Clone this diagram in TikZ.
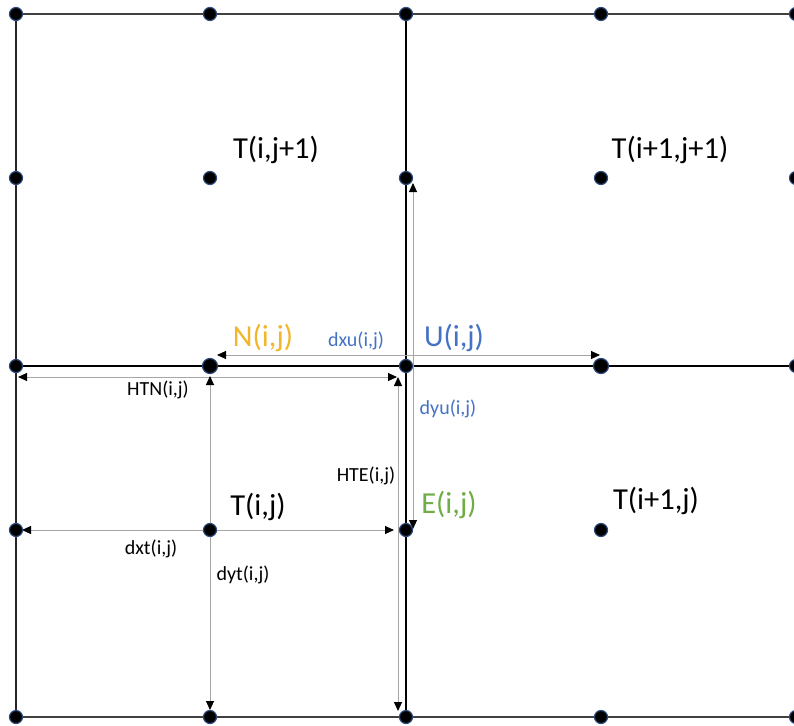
\documentclass[tikz,border=0pt]{standalone}
\usepackage{fontspec}
\setmainfont{Carlito}
\usetikzlibrary{arrows.meta}
\definecolor{dotedge}{HTML}{2E4A7D}
\definecolor{dimgray}{HTML}{A6A6A6}
\definecolor{nyellow}{HTML}{F1B62B}
\definecolor{ublue}{HTML}{4472C4}
\definecolor{egreen}{HTML}{70AD47}
\begin{document}
\begin{tikzpicture}[x=1pt,y=-1pt,
 dot/.style={circle,fill=black,draw=dotedge,line width=1.2pt,inner sep=0pt,minimum size=13pt},
 bigdot/.style={dot,minimum size=15pt},
 thingrid/.style={line width=1.6pt,draw=black!85},
 topgrid/.style={line width=2.2pt,draw=black!75},
 heavygrid/.style={line width=2.8pt,draw=black},
 dimline/.style={draw=dimgray,line width=0.9pt,>={Triangle[length=9pt,width=8pt,color=black]},<->},
 big/.style={font=\fontsize{30.5}{36}\selectfont,inner sep=0pt},
 small/.style={font=\fontsize{20}{24}\selectfont,inner sep=0pt}]
\clip (0,0) rectangle (794,725);
\fill[white] (0,0) rectangle (794,725);
% grid corner / edge points
\coordinate (L1) at (16,14);   \coordinate (R1) at (800,14);
\coordinate (L3) at (16,366);  \coordinate (R3) at (800,366);
\coordinate (L5) at (16,717);  \coordinate (R5) at (800,717);
\coordinate (M1) at (406,14);  \coordinate (M5) at (406,717);
% grid lines
\draw[topgrid] (L1) -- (R1);
\draw[topgrid] (L5) -- (R5);
\draw[heavygrid] (L3) -- (R3);
\draw[thingrid] (L1) -- (L5);
\draw[heavygrid] (M1) -- (M5);
% dimension coordinates
\coordinate (dxuA) at (217,355); \coordinate (dxuB) at (600,355);
\coordinate (htnA) at (18,377);  \coordinate (htnB) at (397,377);
\coordinate (dytA) at (210,376); \coordinate (dytB) at (210,710);
\coordinate (hteA) at (398,377); \coordinate (hteB) at (398,711);
\coordinate (dyuA) at (413,183); \coordinate (dyuB) at (413,529);
\coordinate (dxtA) at (22,530);  \coordinate (dxtB) at (394,530);
\draw[dimline] (dxuA) -- (dxuB);
\draw[dimline] (htnA) -- (htnB);
\draw[dimline] (dytA) -- (dytB);
\draw[dimline] (hteA) -- (hteB);
\draw[dimline] (dyuA) -- (dyuB);
\draw[dimline] (dxtA) -- (dxtB);
% dots
\foreach \x/\n in {16/a,210/b,406/c,601/d,796/e}{
  \node[dot] (p1\n) at (\x,14) {};
  \node[dot] (p2\n) at (\x,178) {};
  \node[dot] (p5\n) at (\x,717) {};
}
\foreach \x/\n in {16/a,406/c,796/e}{
  \node[dot] (p3\n) at (\x,366) {};
}
\node[bigdot] (p3b) at (210,366) {};
\node[bigdot] (p3d) at (601,366) {};
\foreach \x/\n in {16/a,210/b,406/c,601/d}{
  \node[dot] (p4\n) at (\x,530) {};
}
% labels
\node[big] (tij1) at (276,150) {T(i,j+1)};
\node[big] (ti1j1) at (670,150) {T(i+1,j+1)};
\node[big] (tij) at (258,507) {T(i,j)};
\node[big] (ti1j) at (656,501) {T(i+1,j)};
\node[big,text=nyellow] (nij) at (263,338) {N(i,j)};
\node[big,text=ublue] (uij) at (454,338) {U(i,j)};
\node[big,text=egreen] (eij) at (449,505) {E(i,j)};
\node[small,text=ublue] (dxu) at (356,341) {dxu(i,j)};
\node[small,text=ublue] (dyu) at (448,409) {dyu(i,j)};
\node[small] (htn) at (158,390) {HTN(i,j)};
\node[small] (hte) at (366,476) {HTE(i,j)};
\node[small] (dxt) at (151,549) {dxt(i,j)};
\node[small] (dyt) at (243,575) {dyt(i,j)};
\end{tikzpicture}
\end{document}
